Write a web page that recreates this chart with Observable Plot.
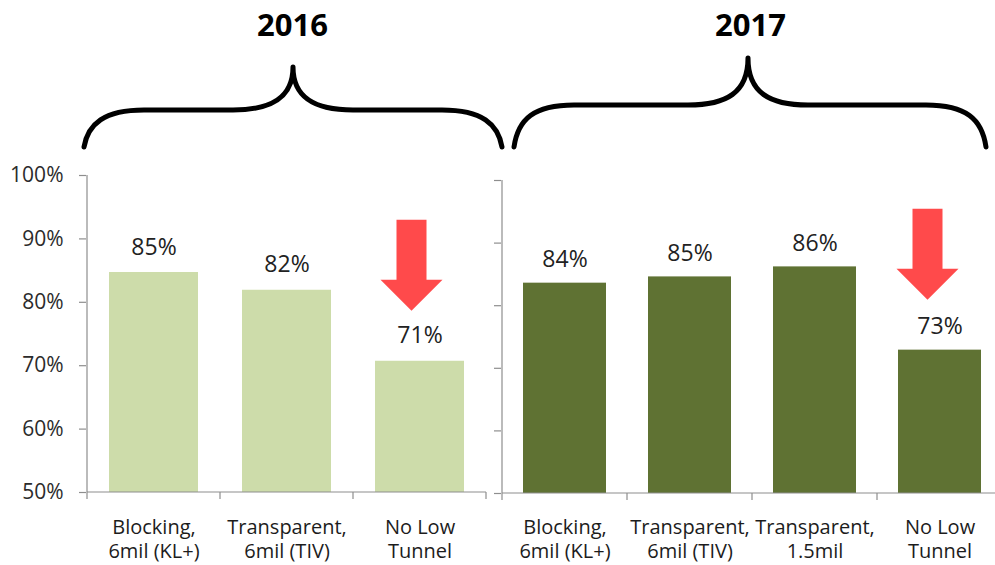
<!DOCTYPE html>
<html>
<head>
<meta charset="utf-8">
<script src="https://cdn.jsdelivr.net/npm/d3@7"></script>
<script src="https://cdn.jsdelivr.net/npm/@observablehq/plot@0.6"></script>
<style>
  body { margin: 0; background: #fff; }
  #wrap { position: relative; width: 995px; height: 565px; overflow: hidden; background: #fff; }
  #wrap svg { position: absolute; top: 0; left: 0; }
</style>
</head>
<body>
<div id="wrap"></div>
<script>
// ---- data ----
const years = ["2016", "2017"];
const categories2016 = ["Blocking,\n6mil (KL+)", "Transparent,\n6mil (TIV)", "No Low\nTunnel"];
const values2016 = [84.7, 81.9, 70.7];
const categories2017 = ["Blocking,\n6mil (KL+)", "Transparent,\n6mil (TIV)", "Transparent,\n1.5mil", "No Low\nTunnel"];
const values2017 = [83.6, 84.6, 86.2, 72.9];
const yTicks = [50, 60, 70, 80, 90, 100];
const yDomain = [50, 100];
const droppedCategory = "No Low\nTunnel";

// ---- styles ----
const axisColor = "#8e8e8e";
const arrowColor = "#ff4a4b";
const font = "'Open Sans', sans-serif";

function panel(o) {
  const data = o.cats.map((c, i) => ({cat: c, value: o.vals[i], label: Math.round(o.vals[i]) + "%"}));
  const n = o.cats.length;

  const deco = (index, scales, values, dims) => {
    const x = scales.x, y = scales.y;
    const g = d3.create("svg:g").attr("fill", "none");
    const step = x.step(), bw = x.bandwidth();
    const left = x(o.cats[0]) + bw / 2 - step / 2;
    const right = left + n * step;
    const y0 = y(yDomain[0]), yTop = y(yDomain[1]);
    // y axis line
    g.append("line").attr("x1", left).attr("x2", left).attr("y1", yTop).attr("y2", y0)
      .attr("stroke", axisColor).attr("stroke-width", 1.2);
    // baseline
    g.append("line").attr("x1", left).attr("x2", right).attr("y1", y0).attr("y2", y0)
      .attr("stroke", axisColor).attr("stroke-width", 1.2);
    // category boundary ticks
    for (let i = 0; i <= n; i++) {
      const bx = left + i * step;
      g.append("line").attr("x1", bx).attr("x2", bx).attr("y1", y0).attr("y2", y0 + 7)
        .attr("stroke", axisColor).attr("stroke-width", 1.2);
    }
    // red drop arrow above the "No Low Tunnel" bar
    const k = o.cats.indexOf(droppedCategory);
    const cx = x(o.cats[k]) + bw / 2 + o.arrowDx;
    const tip = y(o.vals[k]) - 50;
    const head = tip - 31, top = tip - 91;
    const sw = 15, hw = 31;
    g.append("path")
      .attr("d", `M${cx - sw},${top}H${cx + sw}V${head}H${cx + hw}L${cx},${tip}L${cx - hw},${head}H${cx - sw}Z`)
      .attr("fill", arrowColor);
    // curly brace
    const b = o.brace;
    const x0 = left + b.l, x1 = right + b.r, xp = (left + right) / 2 + b.p;
    const yE = b.yE, yH = b.yH, yP = b.yP;
    const e = 60, c = 60;
    const d = `M${x0},${yE} C${x0 + 4},${yH + 14} ${x0 + 20},${yH} ${x0 + e},${yH}` +
      ` L${xp - c},${yH} C${xp - 22},${yH} ${xp},${yH - 12} ${xp},${yP}` +
      ` C${xp},${yH - 12} ${xp + 22},${yH} ${xp + c},${yH}` +
      ` L${x1 - e},${yH} C${x1 - 20},${yH} ${x1 - 4},${yH + 14} ${x1},${yE}`;
    g.append("path").attr("d", d).attr("stroke", "#000").attr("stroke-width", 5)
      .attr("stroke-linecap", "round").attr("stroke-linejoin", "round");
    return g.node();
  };

  return Plot.plot({
    width: o.width,
    height: 565,
    marginLeft: o.marginLeft,
    marginRight: o.marginRight,
    marginTop: o.marginTop,
    marginBottom: o.marginBottom,
    style: {fontFamily: font, background: "transparent", overflow: "visible", maxWidth: "none", height: "565px"},
    x: {domain: o.cats, paddingInner: 0.334, paddingOuter: 0.167, axis: null},
    y: {domain: yDomain, label: null},
    marks: [
      Plot.barY(data, {x: "cat", y1: yDomain[0], y2: "value", fill: o.color}),
      Plot.axisY({
        ticks: yTicks, tickSize: 7, tickPadding: 16, label: null,
        tickFormat: o.showY ? (v) => v + "%" : () => "",
        fontSize: 21, stroke: axisColor, strokeWidth: 1.2, fill: "#2b2b2b"
      }),
      deco,
      Plot.text(data, {
        x: "cat", y: "value", text: "label", lineAnchor: "bottom", dy: o.labelDy,
        fontSize: 23, fill: "#222"
      }),
      Plot.text(data, {
        x: "cat", y: yDomain[0], text: "cat", lineAnchor: "top", dy: o.catDy, lineHeight: 1.22,
        fontSize: 20, fill: "#1c1c1c"
      }),
      Plot.text([o.year], {
        frameAnchor: "top", text: (d) => d, lineAnchor: "bottom", dx: o.titleDx, dy: o.titleDy,
        fontSize: 31, fontWeight: "bold", fill: "#000"
      })
    ]
  });
}

const wrap = document.getElementById("wrap");

const p2016 = panel({
  year: years[0], cats: categories2016, vals: values2016, color: "#cddcaa",
  width: 510, marginLeft: 86, marginRight: 23, marginTop: 175, marginBottom: 73,
  showY: true, labelDy: -18, arrowDx: -8, titleDx: 5.5, titleDy: -140, catDy: 24,
  brace: {l: -3, r: 16, p: 6.5, yE: 147, yH: 110, yP: 67}
});

const p2017 = panel({
  year: years[1], cats: categories2017, vals: values2017, color: "#5f7233",
  width: 1010, marginLeft: 501, marginRight: 7, marginTop: 180, marginBottom: 72,
  showY: false, labelDy: -16, arrowDx: -12, titleDx: -2, titleDy: -145, catDy: 23,
  brace: {l: 12, r: -16, p: -4, yE: 147, yH: 105, yP: 58}
});

wrap.appendChild(p2016);
wrap.appendChild(p2017);
</script>
</body>
</html>
